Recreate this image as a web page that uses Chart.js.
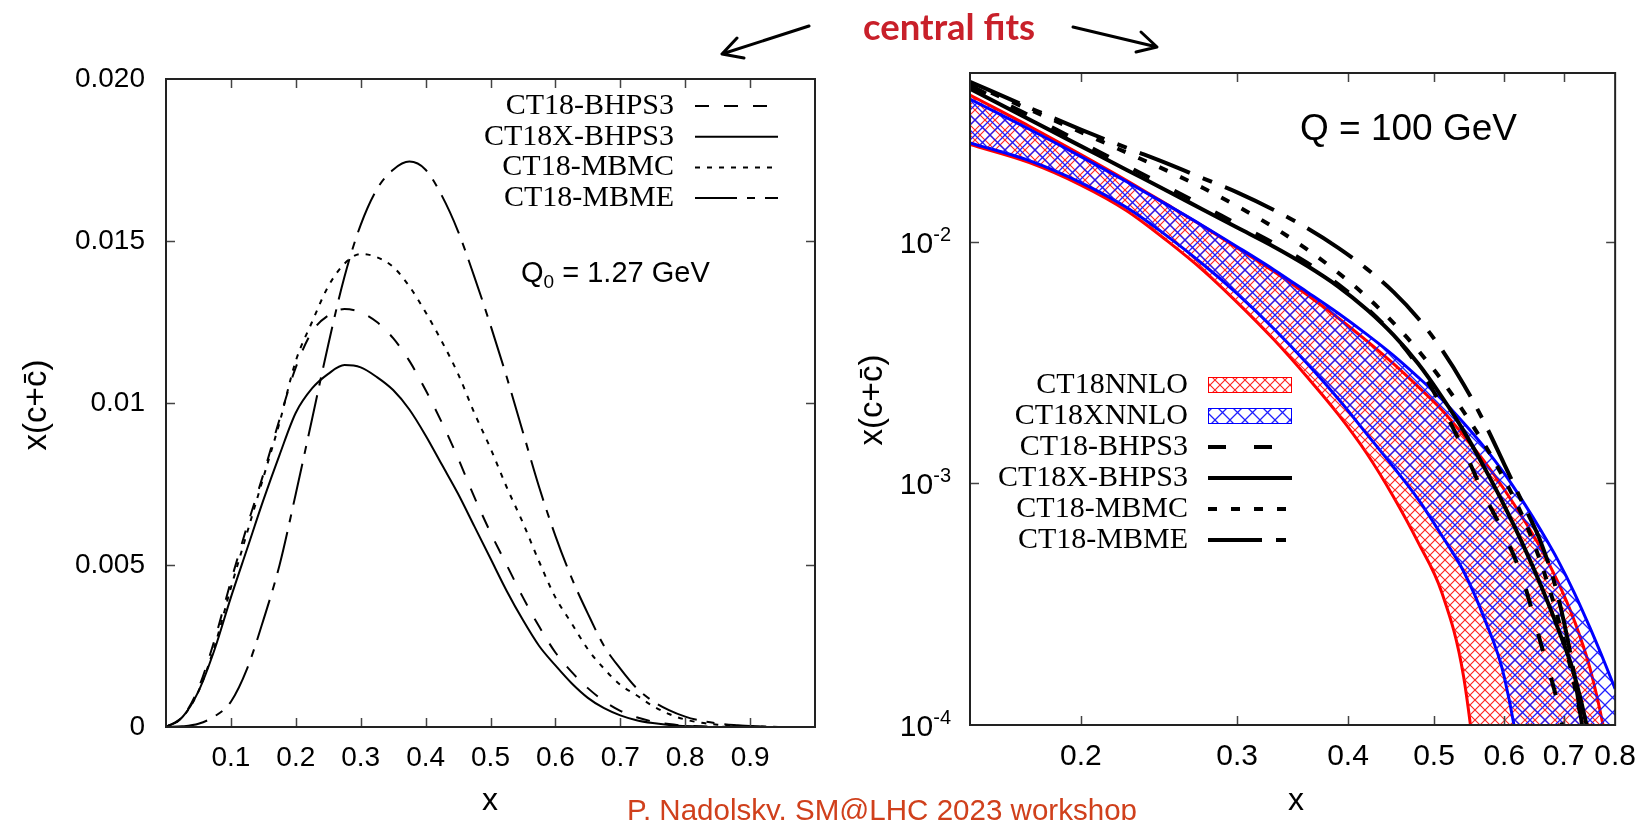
<!DOCTYPE html>
<html><head><meta charset="utf-8">
<script src="https://cdn.jsdelivr.net/npm/chart.js@4.4.1/dist/chart.umd.min.js"></script>
<style>
html,body{margin:0;padding:0;background:#fff;}
#wrap{position:relative;width:1650px;height:820px;overflow:hidden;background:#fff;}
#cL{position:absolute;left:0;top:0;width:825px;height:820px;}
#cR{position:absolute;left:825px;top:0;width:825px;height:820px;}
#ov{position:absolute;left:0;top:0;}
</style></head><body>
<div id="wrap">
<canvas id="cL" width="825" height="820"></canvas>
<canvas id="cR" width="825" height="820"></canvas>
<svg id="ov" width="1650" height="820" font-family="Liberation Sans, Arial, sans-serif">
  <text x="949" y="40" text-anchor="middle" font-family="Lato, sans-serif" font-weight="700" font-size="37" textLength="172" lengthAdjust="spacingAndGlyphs" fill="#c8202a">central fits</text>
  <g stroke="#000" stroke-width="3" stroke-linecap="round" stroke-linejoin="round" fill="none">
    <path d="M809 26 L722 54 M737 38 L722 54 L744 58"/>
    <path d="M1073 27 L1157 47 M1141 32 L1157 47 L1136 52"/>
  </g>
  <text x="490" y="810" text-anchor="middle" font-size="32">x</text>
  <text x="1296" y="810" text-anchor="middle" font-size="32">x</text>
  <text transform="translate(46,405) rotate(-90)" text-anchor="middle" font-size="33">x(c+c&#x304;)</text>
  <text transform="translate(882,400) rotate(-90)" text-anchor="middle" font-size="33">x(c+c&#x304;)</text>
  <text x="1300" y="140" font-size="37">Q = 100 GeV</text>
  <text x="521" y="282" font-size="29">Q<tspan font-size="19" dy="6">0</tspan><tspan dy="-6"> = 1.27 GeV</tspan></text>
  <text x="627" y="820" font-size="29" textLength="510" lengthAdjust="spacingAndGlyphs" fill="#d0401c">P. Nadolsky, SM@LHC 2023 workshop</text>
</svg>
</div>
<script>
// ---------- LEFT PANEL DATA (Q0 = 1.27 GeV, linear) ----------
const xLeft = [0,0.025,0.05,0.075,0.1,0.125,0.15,0.175,0.2,0.225,0.25,0.275,0.3,0.325,0.35,0.375,0.4,0.425,0.45,0.475,0.5,0.525,0.55,0.575,0.6,0.625,0.65,0.675,0.7,0.725,0.75,0.775,0.8,0.825,0.85,0.875,0.9,0.925,0.95,0.975];
const bhps3Left  = [0,0.0003,0.0012,0.0027,0.0045,0.0062,0.0078,0.0095,0.0111,0.0122,0.0127,0.0129,0.0128,0.0125,0.0120,0.0113,0.0104,0.0094,0.0083,0.0071,0.0060,0.0050,0.0040,0.0031,0.0023,0.0017,0.0012,0.0008,0.0005,0.0003,0.00017,0.00009,0.00004,0.00002,0.00001,0,0,0,0,0];
const xbhps3Left = [0,0.0003,0.0011,0.0024,0.0040,0.0055,0.0070,0.0084,0.0097,0.01045,0.0109,0.01117,0.0111,0.0108,0.0104,0.0098,0.0090,0.0081,0.0072,0.0062,0.0052,0.0042,0.0033,0.0025,0.0019,0.00135,0.0009,0.00058,0.00036,0.00021,0.00012,0.00006,0.00003,0.00001,0,0,0,0,0,0];
const mbmcLeft   = [0,0.0003,0.0011,0.0025,0.0043,0.0060,0.0077,0.0094,0.0113,0.0125,0.0136,0.0143,0.0146,0.0145,0.0142,0.0136,0.0128,0.0119,0.0109,0.0097,0.0086,0.0074,0.0063,0.0051,0.0040,0.0032,0.0024,0.0018,0.0013,0.00098,0.00065,0.0004,0.00023,0.00013,0.00007,0.00004,0.00002,0.00001,0,0];
const mbmeLeft   = [0,0.00002,0.0001,0.00033,0.00078,0.0018,0.0033,0.0050,0.0072,0.0095,0.0118,0.0139,0.0155,0.0166,0.0172,0.01745,0.0172,0.0164,0.0153,0.0139,0.0124,0.0108,0.0091,0.0074,0.0059,0.0046,0.0035,0.0025,0.0018,0.0012,0.0008,0.00052,0.00032,0.00019,0.00011,0.00006,0.00003,0.00001,0,0];
const xTicksL = [0.1,0.2,0.3,0.4,0.5,0.6,0.7,0.8,0.9];
const xTickLabelsL = ['0.1','0.2','0.3','0.4','0.5','0.6','0.7','0.8','0.9'];
const yTicksL = [0,0.005,0.01,0.015,0.02];
const yTickLabelsL = ['0','0.005','0.01','0.015','0.020'];

// ---------- RIGHT PANEL DATA (Q = 100 GeV, log-log) ----------
const xRight = [0.15,0.175,0.2,0.225,0.25,0.275,0.3,0.33,0.36,0.39,0.42,0.45,0.48,0.51,0.54,0.57,0.6,0.63,0.66,0.69,0.72,0.75,0.78,0.8];
const nnloUpper  = [0.0405,0.0301,0.0230,0.0180,0.01429,0.01156,0.00944,0.00753,0.00603,0.00484,0.00389,0.00313,0.00251,0.00202,0.00158,0.00123,0.000944,0.000716,0.000537,0.000389,0.000269,0.00017,0.0000891,0.0000501];
const nnloLower  = [0.02529,0.02128,0.01718,0.01349,0.01012,0.00759,0.00562,0.00394,0.00275,0.00193,0.00133,0.000881,0.000569,0.000355,0.000158,0.0000316,0.000005,0.000001,0.000001,0.000001,0.000001,0.000001,0.000001,0.000001];
const xnnloUpper = [0.0390,0.02924,0.02254,0.01778,0.01426,0.01161,0.00955,0.00767,0.00619,0.00506,0.00414,0.00339,0.00275,0.00223,0.00178,0.00141,0.00110,0.000841,0.000638,0.000479,0.000351,0.000251,0.000178,0.000141];
const xnnloLower = [0.0257,0.02168,0.01758,0.0139,0.01059,0.00804,0.0061,0.00437,0.00313,0.00224,0.0016,0.00117,0.000859,0.00061,0.000432,0.000275,0.000158,0.0000562,0.00001,0.000001,0.000001,0.000001,0.000001,0.000001];
const bhps3Right  = [0.0445,0.0333,0.0258,0.02065,0.0169,0.01406,0.01186,0.00986,0.00817,0.00667,0.00531,0.00412,0.00305,0.00209,0.00138,0.000891,0.000617,0.000398,0.000216,0.00012,0.00005,0.0000158,0.000005,0.0000025];
const xbhps3Right = [0.0430,0.0321,0.0249,0.0199,0.01629,0.01355,0.01146,0.00955,0.00794,0.00653,0.00525,0.00412,0.00313,0.00229,0.00165,0.00116,0.00081,0.000557,0.000377,0.00025,0.00016,0.0000834,0.0000316,0.0000126];
const mbmcRight   = [0.0452,0.0353,0.02844,0.02344,0.01972,0.01667,0.01406,0.01148,0.00929,0.00745,0.00592,0.00462,0.00355,0.00268,0.00198,0.00145,0.00104,0.000724,0.000468,0.000275,0.000145,0.0000631,0.00002,0.0000079];
const mbmeRight   = [0.0460,0.0359,0.02917,0.02455,0.02113,0.01828,0.01603,0.01355,0.01138,0.00944,0.00773,0.00621,0.00482,0.00359,0.00257,0.00178,0.0012,0.000822,0.000569,0.000339,0.000158,0.0000562,0.0000158,0.0000063];
const xTicksR = [0.2,0.3,0.4,0.5,0.6,0.7,0.8];
const xTickLabelsR = ['0.2','0.3','0.4','0.5','0.6','0.7','0.8'];
const yTicksR = [0.0001,0.001,0.01];
const yTickExpR = ['-4','-3','-2'];

const pts = (xs, ys) => xs.map((x, i) => ({x, y: ys[i]}));

// ---------- plugins ----------
const framePlugin = {
  id: 'frame',
  afterDatasetsDraw(chart, args, o) {
    const {ctx, chartArea: a} = chart;
    const x = chart.scales.x, y = chart.scales.y;
    ctx.save();
    ctx.strokeStyle = '#444'; ctx.lineWidth = 1.5;
    ctx.beginPath();
    for (const t of o.xTicks) {
      const px = Math.round(x.getPixelForValue(t)) + 0.5;
      ctx.moveTo(px, a.bottom); ctx.lineTo(px, a.bottom - o.len);
      ctx.moveTo(px, a.top); ctx.lineTo(px, a.top + o.len);
    }
    for (const t of o.yTicks) {
      const py = Math.round(y.getPixelForValue(t)) + 0.5;
      ctx.moveTo(a.left, py); ctx.lineTo(a.left + o.len, py);
      ctx.moveTo(a.right, py); ctx.lineTo(a.right - o.len, py);
    }
    ctx.stroke();
    ctx.strokeStyle = '#222'; ctx.lineWidth = 2;
    ctx.strokeRect(a.left, a.top, a.right - a.left, a.bottom - a.top);
    ctx.restore();
  }
};

const legendPlugin = {
  id: 'keybox',
  afterDraw(chart, args, o) {
    const ctx = chart.ctx;
    ctx.save();
    ctx.font = o.font; ctx.fillStyle = '#000';
    ctx.textAlign = 'right'; ctx.textBaseline = 'middle';
    o.items.forEach((it, i) => {
      const ds = chart.data.datasets[it.ds];
      const yy = o.y0 + i * o.dy;
      ctx.fillText(ds.label, o.textRight, yy);
      if (it.hatch) {
        ctx.fillStyle = ds.backgroundColor;
        ctx.fillRect(o.x1, yy - 8, o.x2 - o.x1, 16);
        ctx.strokeStyle = ds.borderColor; ctx.lineWidth = 1;
        ctx.strokeRect(o.x1 + 0.5, yy - 7.5, o.x2 - o.x1 - 1, 15);
        ctx.fillStyle = '#000';
      } else {
        ctx.beginPath();
        ctx.setLineDash(ds.borderDash || []);
        ctx.strokeStyle = ds.borderColor; ctx.lineWidth = ds.borderWidth;
        ctx.moveTo(o.x1, yy); ctx.lineTo(o.x2, yy); ctx.stroke();
        ctx.setLineDash([]);
      }
    });
    ctx.restore();
  }
};

const expLabelPlugin = {
  id: 'explabels',
  afterDraw(chart, args, o) {
    const ctx = chart.ctx, y = chart.scales.y;
    ctx.save(); ctx.fillStyle = '#000'; ctx.textBaseline = 'alphabetic'; ctx.textAlign = 'right';
    o.values.forEach((v, i) => {
      const py = y.getPixelForValue(v);
      ctx.font = '20px "Liberation Sans", Arial, sans-serif';
      const ew = ctx.measureText(o.exps[i]).width;
      ctx.fillText(o.exps[i], o.right, py - 1);
      ctx.font = '30px "Liberation Sans", Arial, sans-serif';
      ctx.fillText('10', o.right - ew, py + 11);
    });
    ctx.restore();
  }
};

function hatch(ctx, color, size, lw) {
  const c = document.createElement('canvas'); c.width = size; c.height = size;
  const g = c.getContext('2d');
  g.strokeStyle = color; g.lineWidth = lw;
  g.beginPath();
  g.moveTo(-2, -2); g.lineTo(size + 2, size + 2);
  g.moveTo(-2, size + 2); g.lineTo(size + 2, -2);
  g.stroke();
  return ctx.createPattern(c, 'repeat');
}

const tickFont = (s) => ({family: '"Liberation Sans", Arial, sans-serif', size: s});

// ---------- LEFT CHART ----------
const ctxL = document.getElementById('cL').getContext('2d');
new Chart(ctxL, {
  type: 'line',
  data: {datasets: [
    {label: 'CT18-BHPS3', data: pts(xLeft, bhps3Left), borderColor: '#000', borderWidth: 2, borderDash: [14, 15]},
    {label: 'CT18X-BHPS3', data: pts(xLeft, xbhps3Left), borderColor: '#000', borderWidth: 2, borderDash: []},
    {label: 'CT18-MBMC', data: pts(xLeft, mbmcLeft), borderColor: '#000', borderWidth: 2, borderDash: [5, 7]},
    {label: 'CT18-MBME', data: pts(xLeft, mbmeLeft), borderColor: '#000', borderWidth: 2, borderDash: [42, 10, 8, 10]}
  ]},
  options: {
    responsive: false, animation: false, events: [],
    layout: {padding: {left: 0, right: 10, top: 79, bottom: 0}},
    elements: {point: {radius: 0}, line: {cubicInterpolationMode: 'monotone', fill: false}},
    plugins: {
      legend: {display: false}, tooltip: {enabled: false},
      frame: {xTicks: xTicksL, yTicks: yTicksL.slice(1, -1), len: 9},
      keybox: {items: [{ds: 0}, {ds: 1}, {ds: 2}, {ds: 3}], font: '30px "Liberation Serif", "Times New Roman", serif',
               textRight: 674, x1: 695, x2: 778, y0: 106, dy: 30.7}
    },
    scales: {
      x: {type: 'linear', min: 0, max: 1,
          grid: {display: false, drawTicks: false}, border: {display: false},
          afterFit: s => { s.height = 93; },
          afterBuildTicks: s => { s.ticks = xTicksL.map(v => ({value: v})); },
          ticks: {font: tickFont(28), color: '#000', padding: 14, maxRotation: 0, autoSkip: false,
                  callback: (v, i) => xTickLabelsL[i]}},
      y: {type: 'linear', min: 0, max: 0.02,
          grid: {display: false, drawTicks: false}, border: {display: false},
          afterFit: s => { s.width = 166; },
          afterBuildTicks: s => { s.ticks = yTicksL.map(v => ({value: v})); },
          ticks: {font: tickFont(28), color: '#000', padding: 21, autoSkip: false,
                  callback: (v, i) => yTickLabelsL[i]}}
    }
  },
  plugins: [framePlugin, legendPlugin]
});

// ---------- RIGHT CHART ----------
const ctxR = document.getElementById('cR').getContext('2d');
const redHatch = hatch(ctxR, 'rgba(255,20,20,0.95)', 10, 1.1);
const blueHatch = hatch(ctxR, 'rgba(20,20,255,0.95)', 15, 1.3);
new Chart(ctxR, {
  type: 'line',
  data: {datasets: [
    {label: 'CT18NNLO', data: pts(xRight, nnloUpper), borderColor: '#ff0000', borderWidth: 3, backgroundColor: redHatch, fill: '+1', order: 8},
    {label: 'CT18NNLO lower', data: pts(xRight, nnloLower), borderColor: '#ff0000', borderWidth: 3, fill: false, order: 9},
    {label: 'CT18XNNLO', data: pts(xRight, xnnloUpper), borderColor: '#0000ff', borderWidth: 3, backgroundColor: blueHatch, fill: '+1', order: 6},
    {label: 'CT18XNNLO lower', data: pts(xRight, xnnloLower), borderColor: '#0000ff', borderWidth: 3, fill: false, order: 7},
    {label: 'CT18-BHPS3', data: pts(xRight, bhps3Right), borderColor: '#000', borderWidth: 4, borderDash: [18, 28], fill: false, order: 3},
    {label: 'CT18X-BHPS3', data: pts(xRight, xbhps3Right), borderColor: '#000', borderWidth: 4, borderDash: [], fill: false, order: 2},
    {label: 'CT18-MBMC', data: pts(xRight, mbmcRight), borderColor: '#000', borderWidth: 4, borderDash: [9, 14], fill: false, order: 1},
    {label: 'CT18-MBME', data: pts(xRight, mbmeRight), borderColor: '#000', borderWidth: 4, borderDash: [54, 14, 10, 14], fill: false, order: 0}
  ]},
  options: {
    responsive: false, animation: false, events: [],
    layout: {padding: {left: 0, right: 28, top: 73, bottom: 0}},
    elements: {point: {radius: 0}, line: {cubicInterpolationMode: 'monotone'}},
    datasets: {line: {clip: 0}},
    plugins: {
      legend: {display: false}, tooltip: {enabled: false},
      frame: {xTicks: xTicksR.slice(0, -1), yTicks: yTicksR.slice(1), len: 9},
      keybox: {items: [{ds: 0, hatch: true}, {ds: 2, hatch: true}, {ds: 4}, {ds: 5}, {ds: 6}, {ds: 7}],
               font: '30px "Liberation Serif", "Times New Roman", serif',
               textRight: 363, x1: 383, x2: 467, y0: 385, dy: 31},
      explabels: {values: yTicksR, exps: yTickExpR, right: 126}
    },
    scales: {
      x: {type: 'logarithmic', min: 0.15, max: 0.8,
          grid: {display: false, drawTicks: false}, border: {display: false},
          afterFit: s => { s.height = 95; },
          afterBuildTicks: s => { s.ticks = xTicksR.map(v => ({value: v})); },
          ticks: {font: tickFont(30), color: '#000', padding: 14, maxRotation: 0, autoSkip: false,
                  callback: (v, i) => xTickLabelsR[i]}},
      y: {type: 'logarithmic', min: 0.0001, max: 0.05,
          grid: {display: false, drawTicks: false}, border: {display: false},
          afterFit: s => { s.width = 145; },
          afterBuildTicks: s => { s.ticks = yTicksR.map(v => ({value: v})); },
          ticks: {display: false}}
    }
  },
  plugins: [framePlugin, legendPlugin, expLabelPlugin]
});
</script>
</body></html>
